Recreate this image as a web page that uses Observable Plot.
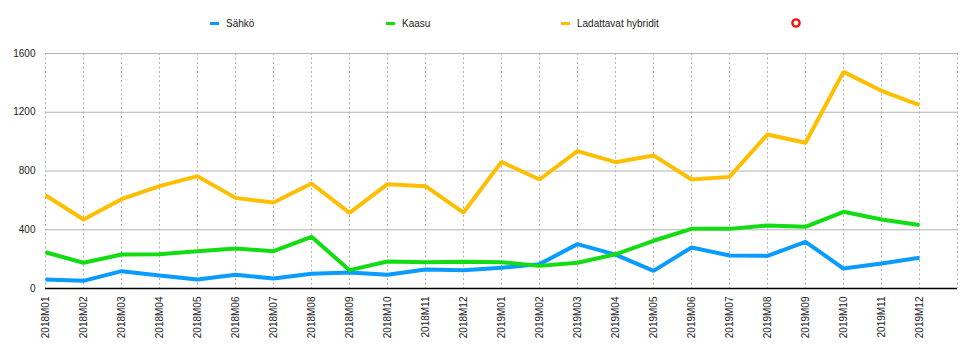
<!DOCTYPE html>
<html><head><meta charset="utf-8">
<script src="https://cdn.jsdelivr.net/npm/d3@7"></script>
<script src="https://cdn.jsdelivr.net/npm/@observablehq/plot@0.6"></script>
<style>
body{margin:0;background:#fff;font-family:"Liberation Sans",Arial,Helvetica,sans-serif;}
#wrap{position:relative;width:967px;height:354px;overflow:hidden;}
#legend{position:absolute;top:0;left:0;width:967px;height:40px;font-size:10px;color:#222;z-index:2;}
.item{position:absolute;top:17px;display:flex;align-items:center;height:12px;white-space:nowrap;}
.sw{width:9px;height:3px;margin-right:7px;}
#chart{position:absolute;top:0;left:0;}
</style></head><body>
<div id="wrap"><div id="legend"></div><div id="chart"></div></div>
<script>
const months = ["2018M01","2018M02","2018M03","2018M04","2018M05","2018M06","2018M07","2018M08","2018M09","2018M10","2018M11","2018M12",
  "2019M01","2019M02","2019M03","2019M04","2019M05","2019M06","2019M07","2019M08","2019M09","2019M10","2019M11","2019M12"];
const seriesNames = ["Sähkö","Kaasu","Ladattavat hybridit"];
const seriesColors = ["#0a9bff","#12dc12","#ffbe00"];
const sahko = [61,52,118,89,61,93,68,100,109,93,129,125,141,166,302,231,120,279,225,222,318,136,170,209];
const kaasu = [247,175,231,234,254,272,254,352,125,184,179,182,179,154,175,233,325,406,406,429,420,522,470,433];
const hybridit = [635,470,608,697,765,617,585,715,515,710,697,517,862,742,935,860,906,742,760,1049,992,1475,1346,1248];
const yTicks = [0,400,800,1200,1600];
const legendLeft = [210,386,561];

const values = [sahko,kaasu,hybridit];
const data = seriesNames.flatMap((s,k)=>months.map((m,i)=>({month:m, series:s, value:values[k][i]})));
const xDomain = [...months, ""];

// legend
const legend = document.getElementById("legend");
seriesNames.forEach((s,k)=>{
  const it = document.createElement("div");
  it.className="item"; it.style.left = legendLeft[k]+"px";
  it.innerHTML = `<span class="sw" style="background:${seriesColors[k]}"></span><span>${s}</span>`;
  legend.appendChild(it);
});
const circ = document.createElement("div");
circ.className="item"; circ.style.left="790px"; circ.style.top="17px";
circ.innerHTML = `<svg width="12" height="12"><circle cx="6" cy="6" r="3.6" fill="none" stroke="#ff1010" stroke-width="2.4"/></svg>`;
legend.appendChild(circ);

const chart = Plot.plot({
  width:967, height:354, marginTop:53, marginBottom:66, marginLeft:45, marginRight:10,
  style:{fontFamily:'"Liberation Sans",Arial,Helvetica,sans-serif', fontSize:"10px", color:"#222", background:"transparent"},
  x:{type:"point", domain:xDomain, padding:0, label:null},
  y:{domain:[0,1600], label:null},
  color:{domain:seriesNames, range:seriesColors},
  marks:[
    Plot.ruleX(xDomain,{stroke:"#b3b3b3", strokeDasharray:"2,2.5", strokeWidth:1}),
    Plot.ruleY(yTicks.filter(d=>d>0),{stroke:"#b3b3b3", strokeWidth:1}),
    Plot.lineY(data,{x:"month", y:"value", z:"series", stroke:"series", strokeWidth:4, strokeLinecap:"butt", strokeLinejoin:"miter"}),
    Plot.ruleY([0],{stroke:"#000", strokeWidth:1.5}),
    Plot.axisY({ticks:yTicks, tickSize:0, tickPadding:10, tickFormat:d3.format("d"), label:null}),
    Plot.axisX({tickSize:0, tickRotate:-90, tickPadding:8, label:null, style:{letterSpacing:"0.3px"}})
  ]
});
document.getElementById("chart").appendChild(chart);
</script>
</body></html>
